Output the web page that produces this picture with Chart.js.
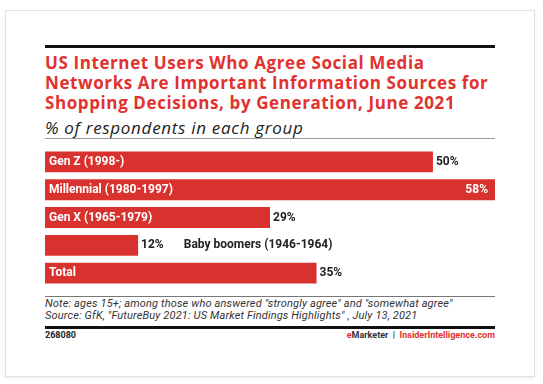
<!DOCTYPE html>
<html>
<head>
<meta charset="utf-8">
<script src="https://cdn.jsdelivr.net/npm/chart.js@4.4.0/dist/chart.umd.min.js"></script>
<style>
  body { margin: 0; background: #fff; font-family: Roboto, "Liberation Sans", sans-serif; }
  .card { position: absolute; left: 5px; top: 10px; width: 530px; height: 367px; box-sizing: border-box;
          border: 1px solid #e2e2e2; box-shadow: 0 1px 3px rgba(0,0,0,0.08); }
  .abs { position: absolute; white-space: nowrap; }
  .topline { left: 45px; top: 45px; width: 450px; height: 3px; background: #111; }
  .title { left: 45px; top: 53px; font-family: "Open Sans", sans-serif; font-size: 17px; line-height: 20px; font-weight: 700; color: #e0322f; letter-spacing: 0.6px; }
  .subtitle { left: 45px; top: 116px; font-family: "Open Sans", sans-serif; font-size: 17px; font-style: italic; color: #222; letter-spacing: 0.7px; }
  .greyline { left: 45px; top: 138px; width: 450px; height: 1px; background: #999; }
  #wrap { position: absolute; left: 45px; top: 148px; width: 450px; height: 139px; }
  .footline { left: 45px; top: 296px; width: 450px; height: 1px; background: #777; }
  .note { left: 45px; top: 298px; font-size: 11px; line-height: 12px; font-style: italic; color: #333; letter-spacing: 0.15px; }
  .blackline { left: 45px; top: 326px; width: 450px; height: 3px; background: #111; }
  .id { left: 45px; top: 330px; font-size: 9px; font-weight: 700; color: #222; }
  .brand { right: 48px; top: 330px; font-size: 9px; font-weight: 700; color: #333; }
  .brand span { color: #e0322f; }
</style>
</head>
<body>
<div class="card"></div>
<div class="abs topline"></div>
<div class="abs title">US Internet Users Who Agree Social Media<br>Networks Are Important Information Sources for<br>Shopping Decisions, by Generation, June 2021</div>
<div class="abs subtitle">% of respondents in each group</div>
<div class="abs greyline"></div>
<div id="wrap"><canvas id="chart"></canvas></div>
<div class="abs footline"></div>
<div class="abs note">Note: ages 15+; among those who answered "strongly agree" and "somewhat agree"<br>Source: GfK, "FutureBuy 2021: US Market Findings Highlights" , July 13, 2021</div>
<div class="abs blackline"></div>
<div class="abs id">268080</div>
<div class="abs brand"><span style="color:#e0322f">e</span>Marketer &nbsp;|&nbsp; <span>InsiderIntelligence.com</span></div>
<script>
const categories = ['Gen Z (1998-)', 'Millennial (1980-1997)', 'Gen X (1965-1979)', 'Baby boomers (1946-1964)', 'Total'];
const values = [50, 58, 29, 12, 35];
const barColor = '#d9322e';

// labels: name inside the bar (white), value after the bar
const barLabels = {
    id: 'barLabels',
    afterDatasetsDraw(chart) {
        const ctx = chart.ctx;
        const meta = chart.getDatasetMeta(0);
        ctx.save();
        ctx.font = 'bold 12px Roboto, "Liberation Sans", sans-serif';
        ctx.textBaseline = 'middle';
        meta.data.forEach((bar, i) => {
            const name = categories[i];
            const val = values[i] + '%';
            const left = bar.base;
            const right = bar.x;
            const y = bar.y;
            const nameW = ctx.measureText(name).width;
            const valW = ctx.measureText(val).width;
            const nameInside = nameW + 12 < right - left;
            const valOutside = right + 4 + valW < chart.chartArea.right;

            if (nameInside) {
                ctx.fillStyle = '#fff';
                ctx.textAlign = 'left';
                ctx.fillText(name, left + 4, y);
            }
            if (valOutside) {
                ctx.fillStyle = '#222';
                ctx.textAlign = 'left';
                ctx.fillText(val, right + 3, y);
            } else {
                ctx.fillStyle = '#fff';
                ctx.textAlign = 'right';
                ctx.fillText(val, right - 7, y);
            }
            if (!nameInside) {
                ctx.fillStyle = '#222';
                ctx.textAlign = 'left';
                ctx.fillText(name, right + 3 + valW + 20, y);
            }
        });
        ctx.restore();
    }
};

new Chart(document.getElementById('chart'), {
    type: 'bar',
    data: {
        labels: categories,
        datasets: [{
            data: values,
            backgroundColor: barColor,
            borderWidth: 0,
            barPercentage: 0.75,
            categoryPercentage: 1
        }]
    },
    options: {
        indexAxis: 'y',
        responsive: true,
        maintainAspectRatio: false,
        animation: false,
        layout: { padding: 0 },
        plugins: { legend: { display: false }, tooltip: { enabled: false } },
        scales: {
            x: { display: false, min: 0, max: 58 },
            y: { display: false }
        }
    },
    plugins: [barLabels]
});
</script>
</body>
</html>
